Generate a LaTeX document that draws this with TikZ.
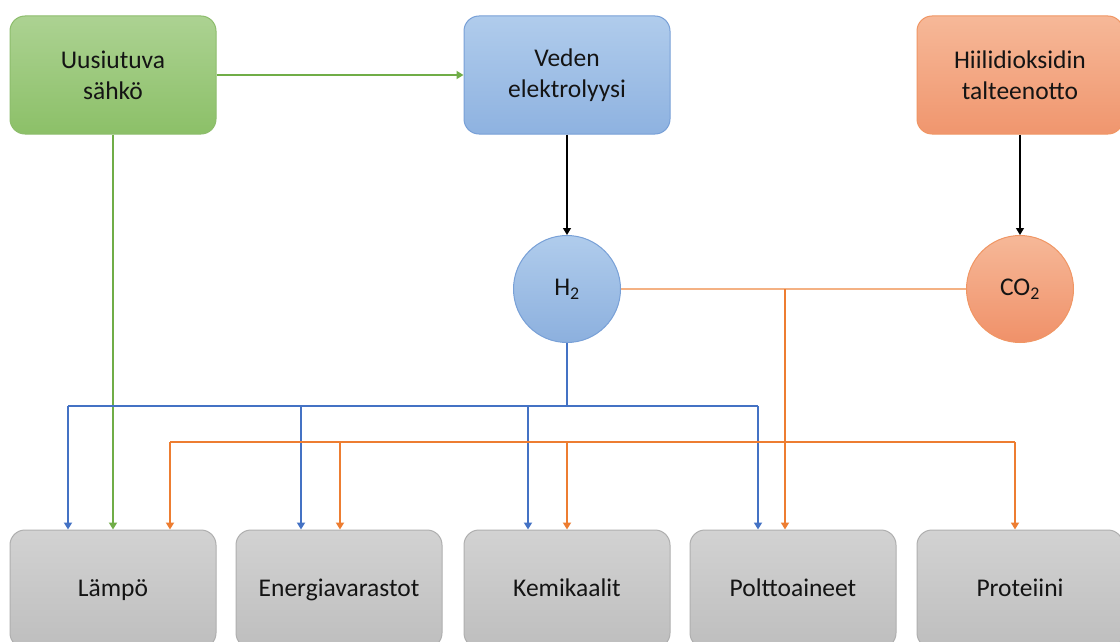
\documentclass[tikz,border=0pt]{standalone}
\usepackage{fontspec}
\setmainfont{Carlito}
\usetikzlibrary{arrows.meta}
\definecolor{gline}{RGB}{112,173,71}
\definecolor{bline}{RGB}{68,114,196}
\definecolor{oline}{RGB}{237,125,49}
\definecolor{olight}{RGB}{244,177,131}
\definecolor{txt}{RGB}{20,20,20}
\tikzset{
  x=1pt,y=-1pt,
  box/.style={rounded corners=15pt,minimum width=206pt,minimum height=118pt,
    align=center,text=txt,font=\fontsize{25.5}{31}\selectfont,line width=1pt},
  gbox/.style={box,draw=gline!80,top color={rgb,255:red,172;green,210;blue,146},bottom color={rgb,255:red,140;green,192;blue,104}},
  bbox/.style={box,draw={rgb,255:red,120;green,160;blue,215},top color={rgb,255:red,176;green,204;blue,236},bottom color={rgb,255:red,142;green,178;blue,224}},
  obox/.style={box,draw={rgb,255:red,240;green,150;blue,100},top color={rgb,255:red,246;green,184;blue,152},bottom color={rgb,255:red,240;green,150;blue,110}},
  ybox/.style={box,text height=17pt,text depth=3pt,draw={rgb,255:red,175;green,175;blue,175},top color={rgb,255:red,210;green,210;blue,210},bottom color={rgb,255:red,190;green,190;blue,190}},
  circ/.style={circle,minimum size=107pt,inner sep=0pt,text=txt,font=\fontsize{25.5}{31}\selectfont,line width=1pt},
  tip/.style={-{Triangle[width=8pt,length=7pt]}},
  gl/.style={draw=gline,line width=1.7pt},
  bl/.style={draw=bline,line width=1.7pt},
  ol/.style={draw=oline,line width=1.7pt},
  oll/.style={draw=olight,line width=1.8pt},
  kl/.style={draw=black,line width=1.3pt},
}
\begin{document}
\begin{tikzpicture}
\useasboundingbox[fill=white] (0,0) rectangle (1120,642);
% top boxes
\node[gbox] (uus) at (113,75) {Uusiutuva\\sähkö};
\node[bbox] (ved) at (567,75) {Veden\\elektrolyysi};
\node[obox] (hii) at (1020,75) {Hiilidioksidin\\talteenotto};
% circles
\node[circ,draw={rgb,255:red,120;green,160;blue,215},top color={rgb,255:red,176;green,204;blue,236},bottom color={rgb,255:red,140;green,176;blue,222}] (h2) at (567,289) {H\textsubscript{2}};
\node[circ,draw={rgb,255:red,240;green,150;blue,100},top color={rgb,255:red,246;green,184;blue,152},bottom color={rgb,255:red,240;green,145;blue,105}] (co2) at (1020,289) {CO\textsubscript{2}};
% bottom boxes
\node[ybox] (lam) at (113,589) {Lämpö};
\node[ybox] (ene) at (339,589) {Energiavarastot};
\node[ybox] (kem) at (567,589) {Kemikaalit};
\node[ybox] (pol) at (793,589) {Polttoaineet};
\node[ybox] (pro) at (1020,589) {Proteiini};
% bus coordinates
\coordinate (hb) at (567,406);
\coordinate (b1) at (68,406);
\coordinate (b2) at (301,406);
\coordinate (b3) at (528,406);
\coordinate (b4) at (758,406);
\coordinate (o1) at (170,442);
\coordinate (o2) at (340,442);
\coordinate (o3) at (567,442);
\coordinate (o5) at (1015,442);
\coordinate (oj) at (785,289);
% green
\draw[gl,tip] (uus.east) -- (ved.west);
\draw[gl,tip] (uus.south) -- (lam.north);
% black
\draw[kl,tip] (ved.south) -- (h2.north);
\draw[kl,tip] (hii.south) -- (co2.north);
% orange H2-CO2
\draw[oll] (h2.east) -- (co2.west);
\draw[ol,tip] (oj) -- (oj |- pol.north);
% blue bus
\draw[bl] (h2.south) -- (hb);
\draw[bl] (b1) -- (b4);
\draw[bl,tip] (b1) -- (b1 |- lam.north);
\draw[bl,tip] (b2) -- (b2 |- ene.north);
\draw[bl,tip] (b3) -- (b3 |- kem.north);
\draw[bl,tip] (b4) -- (b4 |- pol.north);
% orange bus
\draw[ol] (o1) -- (o5);
\draw[ol,tip] (o1) -- (o1 |- lam.north);
\draw[ol,tip] (o2) -- (o2 |- ene.north);
\draw[ol,tip] (o3) -- (o3 |- kem.north);
\draw[ol,tip] (o5) -- (o5 |- pro.north);
\end{tikzpicture}
\end{document}
